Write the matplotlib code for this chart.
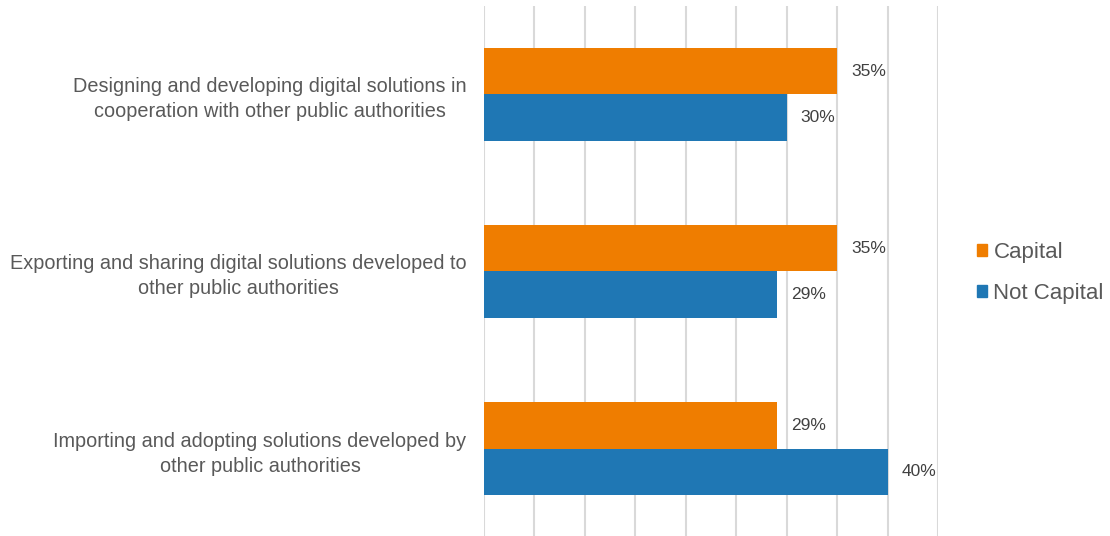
import matplotlib.pyplot as plt
from matplotlib.patches import Patch
import numpy as np

plt.rcParams["font.family"] = ["Liberation Sans", "DejaVu Sans"]

# survey items, top to bottom
CATEGORIES = [
    "Designing and developing digital solutions in\ncooperation with other public authorities",
    "Exporting and sharing digital solutions developed to\nother public authorities",
    "Importing and adopting solutions developed by\nother public authorities",
]
CAPITAL = [35, 35, 29]
NOT_CAPITAL = [30, 29, 40]

ORANGE = "#EF7D00"
BLUE = "#1F77B4"
TEXT_GREY = "#595959"


def main():
    fig = plt.figure(figsize=(11.1, 5.36), dpi=100)
    ax = fig.add_axes([0.436, -0.002, 0.409, 0.991])

    y = np.arange(len(CATEGORIES))
    h = 0.263

    bars_cap = ax.barh(y - h / 2, CAPITAL, height=h, color=ORANGE, zorder=3)
    bars_not = ax.barh(y + h / 2, NOT_CAPITAL, height=h, color=BLUE, zorder=3)

    for bars, vals in [(bars_cap, CAPITAL), (bars_not, NOT_CAPITAL)]:
        for b, v in zip(bars, vals):
            ax.text(b.get_width() + 1.4, b.get_y() + b.get_height() / 2, f"{v}%",
                    va="center", ha="left", fontsize=12.5, color="#404040")

    ax.set_xlim(0, 45)
    ax.set_ylim(2.5, -0.5)
    ax.set_xticks(np.arange(0, 46, 5))
    ax.set_xticklabels([])
    ax.grid(axis="x", color="#D9D9D9", linewidth=1.5, zorder=0)

    ax.set_yticks(y)
    ax.set_yticklabels(CATEGORIES, fontsize=14.3, color=TEXT_GREY,
                       multialignment="center", linespacing=1.4)
    ax.tick_params(axis="both", length=0)
    ax.tick_params(axis="y", pad=12.5)
    for s in ax.spines.values():
        s.set_visible(False)

    handles = [Patch(color=ORANGE, label="Capital"), Patch(color=BLUE, label="Not Capital")]
    fig.legend(handles=handles, loc="center left", bbox_to_anchor=(0.872, 0.491),
               frameon=False, fontsize=16, labelcolor=TEXT_GREY,
               handlelength=0.45, handleheight=0.45, handletextpad=0.3,
               labelspacing=0.885, borderaxespad=0)

    plt.savefig("out.png", dpi=100)
    plt.close()


if __name__ == "__main__":
    main()
